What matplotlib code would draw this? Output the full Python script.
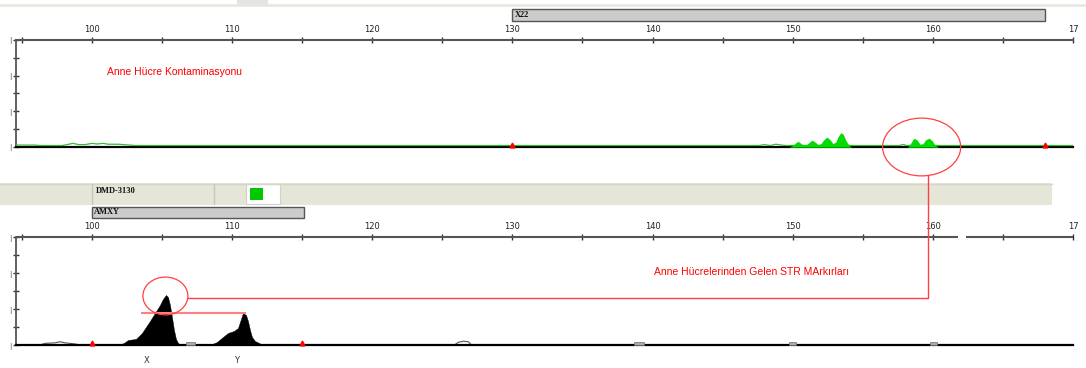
import numpy as np
import matplotlib
matplotlib.use("Agg")
import matplotlib.pyplot as plt
from matplotlib.patches import Rectangle, Ellipse
from matplotlib.transforms import blended_transform_factory

W, H = 1086, 368

# ---- ust panel (X22 bolgesi), yesil iz ----
green_x = [149.804, 150.018, 150.232, 150.375, 150.517, 150.732, 150.946, 151.16,
           151.374, 151.588, 151.802, 152.016, 152.23, 152.444, 152.658, 152.872,
           153.086, 153.3, 153.443, 153.585, 153.799, 154.013, 154.156]
green_y = [0, 1.4, 3.8, 5.0, 3.8, 1.6, 1.6, 3.8,
           6.2, 4.4, 2.0, 2.8, 6.5, 9.0, 6.5, 2.8,
           4.5, 10.5, 13.0, 11.8, 5.5, 1.2, 0]
green2_x = [158.224, 158.437, 158.651, 158.865, 159.079, 159.293, 159.507, 159.721,
            159.935, 160.15, 160.364]
green2_y = [0, 3.4, 8.0, 6.4, 2.2, 2.8, 6.5, 8.0, 5.8, 1.6, 0]

# dolgusuz gurultu izi
noise_top_x = [94.58, 95.93, 96.29, 97.86, 98.21, 98.64, 99.07, 99.5, 100.0, 100.36,
               100.79, 101.14, 101.86, 102.71, 103.07, 147.6, 148.0, 148.4, 148.8,
               149.2, 149.5, 157.6, 157.9, 158.1, 170.0]
noise_top_y = [1.8, 1.8, 1.4, 1.4, 2.2, 3.4, 2.2, 2.2, 3.4, 2.8,
               3.4, 2.6, 2.6, 1.8, 1.4, 1.4, 2.2, 1.4, 2.6,
               1.8, 1.4, 1.4, 2.4, 1.4, 1.4]

top_markers = [130.0, 168.0]

# ---- alt panel (AMXY), siyah iz ----
peakX_x = [101.855, 102.283, 102.569, 103.14, 103.568, 103.853, 104.138, 104.495,
           104.852, 105.066, 105.28, 105.423, 105.566, 105.708, 105.851, 105.994,
           106.136, 106.35]
peakX_y = [0, 1.9, 4.6, 5.6, 11.1, 16.7, 22.2, 29.6, 37.0, 42.6, 46.3, 44.4, 37.0,
           25.9, 13.9, 5.6, 1.9, 0]
peakY_x = [108.419, 108.919, 109.347, 109.704, 110.132, 110.418, 110.632, 110.774,
           110.989, 111.131, 111.274, 111.417, 111.631, 111.916, 112.201]
peakY_y = [0, 2.8, 7.4, 11.1, 13.0, 15.7, 24.1, 29.6, 27.8, 22.2, 13.9, 7.4, 3.7,
           1.9, 0]

bump_bottom = [([96.29, 96.64, 97.36, 97.71, 98.07, 98.79, 99.14], [0, 1.5, 2, 3, 2, 1, 0]),
               ([125.86, 126.14, 126.5, 126.86, 127.07], [0, 2.5, 3.5, 3, 0])]
gray_bins = [(106.7, 107.35), (138.71, 139.36), (149.71, 150.21), (159.79, 160.29)]
bottom_markers = [100.0, 115.0]

allele_labels = ["X", "Y"]
allele_pos = [103.9, 110.35]

x_major = [100, 110, 120, 130, 140, 150, 160, 170]
x_labels = ["100", "110", "120", "130", "140", "150", "160", "17"]
x_minor = [95, 105, 115, 125, 135, 145, 155, 165]

bins = {"X22": (130.0, 168.0), "AMXY": (100.0, 115.1)}


def px_rect(l, t, r, b):
    return [l / W, 1 - b / H, (r - l) / W, (b - t) / H]


def style_axis(ax, broken=None):
    ax.set_xlim(94.58, 170.0)
    ax.set_ylim(0, 100)
    for s in ["right", "bottom"]:
        ax.spines[s].set_visible(False)
    ax.spines["left"].set_color("#555555")
    ax.spines["left"].set_linewidth(1.3)
    if broken is None:
        ax.spines["top"].set_color("#555555")
        ax.spines["top"].set_linewidth(1.5)
    else:
        ax.spines["top"].set_visible(False)
        for a, b in [(94.58, broken[0]), (broken[1], 170.0)]:
            ax.plot([a, b], [100, 100], color="#555555", lw=1.5, clip_on=False,
                    solid_capstyle="butt")
    ax.xaxis.tick_top()
    ax.set_xticks(x_major)
    ax.set_xticklabels(x_labels)
    ax.set_xticks(x_minor, minor=True)
    ax.tick_params(axis="x", which="both", direction="inout", length=5, width=1,
                   color="#333333", labelsize=6, pad=2, labelcolor="#222222")
    ax.set_yticks([0, 100 / 3, 200 / 3, 100])
    ax.set_yticklabels(["|"] * 4)
    ax.set_yticks([100 / 6, 50, 500 / 6], minor=True)
    ax.tick_params(axis="y", which="both", direction="inout", length=5, width=1,
                   color="#333333", labelsize=5, pad=1, labelcolor="#555555")
    ax.axhline(0, color="black", lw=1.6, clip_on=False, zorder=4)
    ax.patch.set_alpha(0)


fig = plt.figure(figsize=(W / 100, H / 100), dpi=100)
fig.patch.set_facecolor("white")

ax1 = fig.add_axes(px_rect(16, 40, 1073, 147))
ax2 = fig.add_axes(px_rect(16, 237, 1073, 345))
style_axis(ax1)
style_axis(ax2, broken=(161.77, 162.4))

# ust panel
ax1.plot(noise_top_x, noise_top_y, color="#33bb33", lw=0.9, zorder=5)
ax1.fill_between(green_x, green_y, color="#00dd00", lw=0.3, ec="#00cc00", zorder=5)
ax1.fill_between(green2_x, green2_y, color="#00dd00", lw=0.3, ec="#00cc00", zorder=5)
ax1.plot(top_markers, [1.5] * len(top_markers), "^", color="red", ms=3.5, zorder=6,
         clip_on=False)
ax1.text(101.07, 70, "Anne Hücre Kontaminasyonu", color="red", fontsize=7.5,
         family="Liberation Sans", va="center", ha="left")

# alt panel
ax2.fill_between(peakX_x, peakX_y, color="black", lw=0.3, zorder=3)
ax2.fill_between(peakY_x, peakY_y, color="black", lw=0.3, zorder=3)
for bx, by in bump_bottom:
    ax2.fill_between(bx, by, color="white", zorder=3)
    ax2.plot(bx, by, color="#555555", lw=0.8, zorder=3)
for a, b in gray_bins:
    ax2.add_patch(Rectangle((a, 0), b - a, 2.5, fc="#a8a8a8", ec="#707070", lw=0.5,
                            zorder=5, clip_on=False))
ax2.plot(bottom_markers, [1.5] * len(bottom_markers), "^", color="red", ms=3.5,
         zorder=5, clip_on=False)
ax2.hlines(max(peakY_y), 103.5, 111.0, color="#ff8080", lw=1.5, zorder=4)
for lab, pos in zip(allele_labels, allele_pos):
    ax2.text(pos, -14, lab, fontsize=6, ha="center", va="center", color="#333333",
             clip_on=False)
ax2.text(147.1, 67.6, "Anne Hücrelerinden Gelen STR MArkırları", color="red",
         fontsize=7.5, family="Liberation Sans", va="center", ha="center")

# bin kutulari
for ax, name, yb, yt in [(ax1, "X22", 1.178, 1.29), (ax2, "AMXY", 1.176, 1.278)]:
    a, b = bins[name]
    tr = blended_transform_factory(ax.transData, ax.transAxes)
    ax.add_patch(Rectangle((a, yb), b - a, yt - yb, transform=tr, fc="#cccccc",
                           ec="#555555", lw=1, clip_on=False))
    ax.text(a + 0.15, (yb + yt) / 2, name, transform=tr, fontsize=6,
            family="Liberation Serif", weight="bold", va="center", ha="left",
            color="#111111", clip_on=False)

# elipsler
ell_top = Ellipse((159.2, 0), 5.57, 54, fill=False, ec="#ff4040", lw=0.9,
                  clip_on=False, zorder=7)
ax1.add_patch(ell_top)
ell_bot = Ellipse((105.24, 45.4), 3.21, 35, fill=False, ec="#ff4040", lw=0.9,
                  clip_on=False, zorder=6)
ax2.add_patch(ell_bot)

# ust katman: arac cubugu ve kirmizi baglanti cizgisi
ov = fig.add_axes([0, 0, 1, 1], zorder=5)
ov.set_xlim(0, W)
ov.set_ylim(H, 0)
ov.axis("off")
ov.patch.set_alpha(0)

ov.plot([0, W], [5, 5], color="#e8e8de", lw=2)
ov.add_patch(Rectangle((237, 0), 31, 6, fc="#e4e4e4", ec="none"))
ov.add_patch(Rectangle((0, 183), 1052, 22, fc="#e6e6d8", ec="none"))
ov.plot([0, 1052], [183.5, 183.5], color="#d6d6c8", lw=1)
for xs in [92, 214]:
    ov.plot([xs, xs], [184, 204], color="#c6c6bc", lw=1)
ov.add_patch(Rectangle((246, 184), 34, 20, fc="white", ec="#d0d0d0", lw=0.8))
ov.add_patch(Rectangle((250, 188), 13, 12, fc="#00c800", ec="none"))
ov.text(96, 191, "DMD-3130", fontsize=6, family="Liberation Serif", weight="bold",
        va="center", ha="left", color="#111111")


def to_ov(ax, pt):
    return ov.transData.inverted().transform(ax.transData.transform(pt))


p0 = to_ov(ax1, (159.65, -27))
p1 = to_ov(ax2, (159.65, 43.5))
p2 = to_ov(ax2, (106.85, 43.5))
ov.plot([p0[0], p1[0], p2[0]], [p0[1], p1[1], p2[1]], color="#ff4040", lw=1.0)

fig.savefig("out.png", dpi=100)
